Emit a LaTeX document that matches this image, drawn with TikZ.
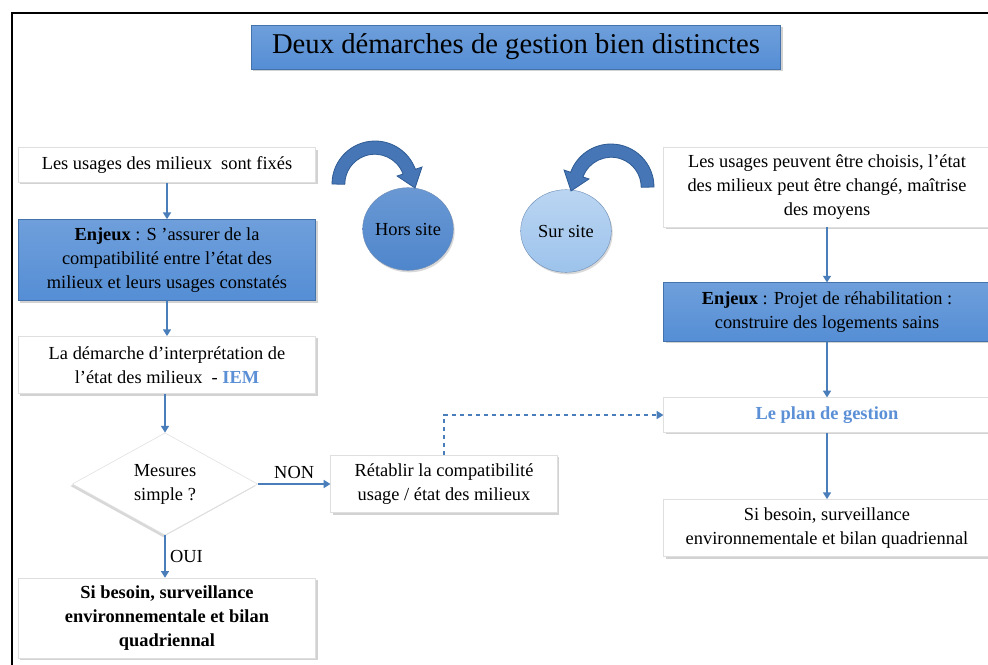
\documentclass[tikz,border=0pt]{standalone}
\usepackage{fontspec}
\setmainfont{Liberation Serif}
\usetikzlibrary{arrows.meta,shapes.geometric,shadows}
\definecolor{boxblue}{HTML}{558ED5}
\definecolor{linkblue}{HTML}{4A7EBB}
\definecolor{textblue}{HTML}{5B8FD6}
\definecolor{horsblue}{HTML}{4F86CC}
\definecolor{surblue}{HTML}{9DC3EC}
\definecolor{bendblue}{HTML}{4676B6}
\definecolor{benddark}{HTML}{2F5B94}
\tikzset{
  base/.style={rectangle, align=center, inner sep=1pt, font=\fontsize{13.8}{18}\selectfont,
    drop shadow={opacity=0.35, shadow xshift=1.5pt, shadow yshift=-1.5pt}},
  whitebox/.style={base, fill=white, draw=gray!25},
  bluebox/.style={base, top color=boxblue!85!white, bottom color=boxblue, draw=boxblue!80!black, line width=0.3pt},
  link/.style={draw=linkblue, line width=1pt, -{Triangle[width=6pt,length=5pt]}},
  site/.style={ellipse, minimum width=68pt, minimum height=62pt, inner xsep=-5pt, inner ysep=0pt,
    draw=benddark!70, line width=0.3pt,
    font=\fontsize{13.8}{16}\selectfont, drop shadow={opacity=0.3, shadow xshift=1pt, shadow yshift=-1.5pt}},
  bendarrow/.style={fill=bendblue, draw=benddark, line width=0.6pt},
}
\begin{document}
\begin{tikzpicture}[x=0.75pt, y=-0.75pt]
  \clip (0,0) rectangle (988,664);
  \fill[white] (0,0) rectangle (988,664);
  \draw[line width=1.5pt] (12,670) -- (12,13) -- (995,13);

  \node[bluebox, minimum width=397pt, minimum height=33pt, font=\fontsize{21.5}{24}\selectfont] (title) at (516,47) {Deux démarches de gestion bien distinctes};

  \node[whitebox, minimum width=223pt, minimum height=26pt] (usages) at (167,165) {Les usages des milieux\ \ sont fixés};
  \node[bluebox, minimum width=223pt, minimum height=61pt] (enjeuxL) at (167,260) {\textbf{Enjeux} : S ’assurer de la\\compatibilité entre l’état des\\milieux et leurs usages constatés};
  \node[whitebox, minimum width=223pt, minimum height=43pt] (iem) at (167,365) {La démarche d’interprétation de\\l’état des milieux\ \ - \textcolor{textblue}{\textbf{IEM}}};
  \node[diamond, fill=white, draw=gray!25, minimum width=139pt, minimum height=76pt, inner sep=0pt, align=center,
    font=\fontsize{13.8}{18}\selectfont, drop shadow={opacity=0.3, shadow xshift=-1.5pt, shadow yshift=-1.5pt}] (mesures) at (165,484) {Mesures\\simple ?};
  \node[whitebox, minimum width=223pt, minimum height=60pt, font=\fontsize{13.8}{18}\selectfont\bfseries] (besoinL) at (167,618) {Si besoin, surveillance\\environnementale et bilan\\quadriennal};
  \node[whitebox, minimum width=170pt, minimum height=43pt] (retablir) at (444,484) {Rétablir la compatibilité\\usage / état des milieux};

  \node[whitebox, minimum width=245pt, minimum height=60pt] (choix) at (827,187) {Les usages peuvent être choisis, l’état\\des milieux peut être changé, maîtrise\\des moyens};
  \node[bluebox, minimum width=245pt, minimum height=44pt] (enjeuxR) at (827,312) {\textbf{Enjeux} : Projet de réhabilitation :\\construire des logements sains};
  \node[whitebox, minimum width=245pt, minimum height=26pt] (plan) at (827,415) {\textcolor{textblue}{\textbf{Le plan de gestion}}};
  \node[whitebox, minimum width=245pt, minimum height=43pt] (besoinR) at (827,528) {Si besoin, surveillance\\environnementale et bilan quadriennal};

  \node[site, top color=horsblue!85!white, bottom color=horsblue] (hors) at (408,229) {Hors site};
  \node[site, top color=surblue!70!white, bottom color=surblue] (sur) at (566,231) {Sur site};

  \draw[bendarrow] (332,184) arc[start angle=180, end angle=340, radius=43] -- (422,167) -- (415,188)
    -- (397,176) -- (403,174) arc[start angle=340, end angle=180, radius=30] -- cycle;
  \begin{scope}[shift={(986,3)}, xscale=-1]
    \draw[bendarrow] (332,184) arc[start angle=180, end angle=340, radius=43] -- (422,167) -- (415,188)
      -- (397,176) -- (403,174) arc[start angle=340, end angle=180, radius=30] -- cycle;
  \end{scope}

  \draw[link] (usages) -- (enjeuxL);
  \draw[link] (enjeuxL) -- (iem);
  \draw[link] (iem.south -| mesures.north) -- (mesures.north);
  \draw[link] (mesures.east) -- node[above, font=\fontsize{13.8}{16}\selectfont] {NON} (retablir.west);
  \draw[link] (mesures.south) -- node[right, font=\fontsize{13.8}{16}\selectfont] {OUI} (besoinL.north -| mesures.south);
  \draw[link, dashed] (retablir.north) |- (plan.west);
  \draw[link] (choix) -- (enjeuxR);
  \draw[link] (enjeuxR) -- (plan);
  \draw[link] (plan) -- (besoinR);
\end{tikzpicture}
\end{document}
